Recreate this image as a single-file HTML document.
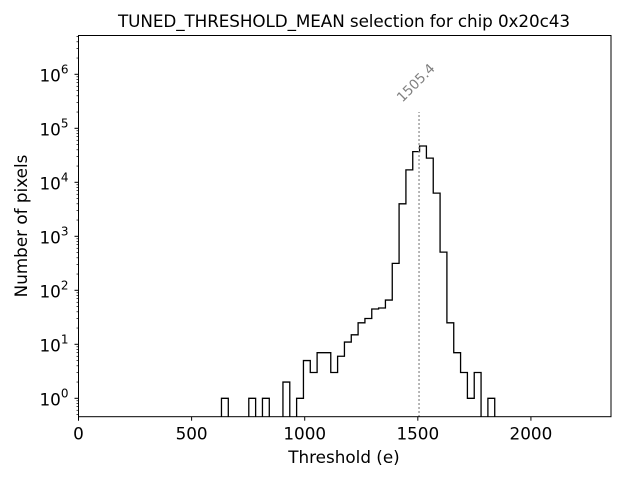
<!DOCTYPE html>
<html><head><meta charset="utf-8"><style>
body{margin:0;background:#fff}
svg text{font-family:"DejaVu Sans","Liberation Sans",sans-serif}
</style></head><body>
<svg id="chart" width="640" height="480" xmlns="http://www.w3.org/2000/svg">
<rect width="640" height="480" fill="#fff"/>
<text x="344" y="27" font-size="16.8" text-anchor="middle" textLength="452">TUNED_THRESHOLD_MEAN selection for chip 0x20c43</text>
<text x="344" y="463" font-size="16.8" text-anchor="middle">Threshold (e)</text>
<text transform="translate(27,226) rotate(-90)" font-size="16.8" text-anchor="middle">Number of pixels</text>
<g id="plot"></g>
</svg>
<script>
const binStart = 632;
const binWidth = 30.2;
const counts = [1,0,0,0,1,0,1,0,0,2,0,1,5,3,7,7,3,6,11,15,25,30,45,47,66,315,4000,17000,37000,47000,28000,6300,510,25,7,3,1,3,0,1];
const xTicks = [0,500,1000,1500,2000];
const yTickExps = [0,1,2,3,4,5,6];
const selection = 1505.4;
const selectionLabel = "1505.4";

const L=78.5,R=611,T=35.5,B=416.7;
const xMin=0,xMax=2354;
const yMinExp=Math.log10(1)-(B-398.3)/54,yMaxExp=6+(74.3-T)/54;
const X=v=>L+(v-xMin)/(xMax-xMin)*(R-L);
const Y=v=>B-(Math.log10(v)-yMinExp)/(yMaxExp-yMinExp)*(B-T);
const NS="http://www.w3.org/2000/svg";
const g=document.getElementById('plot');
function mk(t,a){const e=document.createElementNS(NS,t);for(const k in a)e.setAttribute(k,a[k]);g.appendChild(e);return e;}

let d="";
counts.forEach((c,i)=>{
  const x0=X(binStart+i*binWidth),x1=X(binStart+(i+1)*binWidth);
  const y=c>0?Y(c):B+5;
  d+=(i===0?`M${x0},${B+5}`:"")+`L${x0},${y}L${x1},${y}`;
});
d+=`L${X(binStart+counts.length*binWidth)},${B+5}`;
const cp=document.createElementNS(NS,'clipPath');cp.setAttribute('id','clip');
const cr=document.createElementNS(NS,'rect');cr.setAttribute('x',L);cr.setAttribute('y',T);cr.setAttribute('width',R-L);cr.setAttribute('height',B-T);
cp.appendChild(cr);g.appendChild(cp);
const h=mk('path',{d:d,fill:'none',stroke:'#000','stroke-width':1.3,'clip-path':'url(#clip)'});



const sx=X(selection);
const sl=mk('line',{x1:sx,x2:sx,y1:B,y2:Y(2e5),stroke:'#808080','stroke-width':1.5,'stroke-dasharray':'1.5,2.5'});


const lx=sx, ly=Y(2e5)-26;
const st=mk('text',{x:lx,y:ly,'font-size':13.5,fill:'#808080','text-anchor':'middle',transform:`rotate(-45 ${lx} ${ly})`});
st.textContent=selectionLabel;



const fr=mk('rect',{x:L,y:T,width:R-L,height:B-T,fill:'none',stroke:'#000','stroke-width':1});



xTicks.forEach(v=>{
  const x=X(v);
  const tk=mk('line',{x1:x,x2:x,y1:B,y2:B+4,stroke:'#000'});
  
  
  const t=mk('text',{x:x,y:B+23,'font-size':16.8,'text-anchor':'middle'});
  t.textContent=v;
  
  
});
yTickExps.forEach(e=>{
  const y=Y(Math.pow(10,e));
  const tk=mk('line',{x1:L-4,x2:L,y1:y,y2:y,stroke:'#000'});
  
  
  const t=mk('text',{x:L-10,y:y+7,'font-size':16.8,'text-anchor':'end'});
  t.innerHTML=`10<tspan dy="-8" font-size="12">${e}</tspan>`;
  
  
});
for(let e=-1;e<=6;e++){for(let m=2;m<=9;m++){
  const v=m*Math.pow(10,e);const y=Y(v);
  if(y<T||y>B)continue;
  const mt=mk('line',{x1:L-2,x2:L,y1:y,y2:y,stroke:'#000','stroke-width':0.7});
  
  
}}
</script>
</body></html>
